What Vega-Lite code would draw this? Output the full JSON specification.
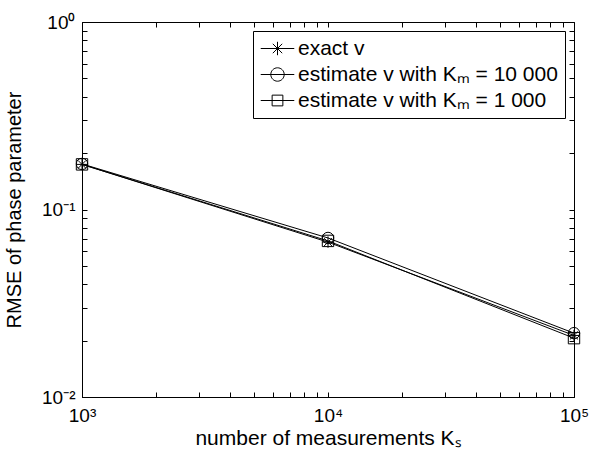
{
  "$schema": "https://vega.github.io/schema/vega-lite/v6.json",
  "width": 492,
  "height": 375,
  "autosize": {"type": "none"},
  "padding": {"left": 82, "top": 22, "right": 18, "bottom": 56},
  "background": "white",
  "data": {"values": [
    {"K": 1000, "rmse": 0.174, "series": "exact v"},
    {"K": 10000, "rmse": 0.067, "series": "exact v"},
    {"K": 100000, "rmse": 0.0213, "series": "exact v"},
    {"K": 1000, "rmse": 0.175, "series": "estimate v with Kₘ = 10 000"},
    {"K": 10000, "rmse": 0.0705, "series": "estimate v with Kₘ = 10 000"},
    {"K": 100000, "rmse": 0.0219, "series": "estimate v with Kₘ = 10 000"},
    {"K": 1000, "rmse": 0.174, "series": "estimate v with Kₘ = 1 000"},
    {"K": 10000, "rmse": 0.068, "series": "estimate v with Kₘ = 1 000"},
    {"K": 100000, "rmse": 0.0206, "series": "estimate v with Kₘ = 1 000"}
  ]},
  "config": {
    "view": {"stroke": "black", "strokeWidth": 1},
    "axis": {
      "domainColor": "black", "tickColor": "black", "labelColor": "black", "titleColor": "black",
      "labelFont": "Liberation Sans", "titleFont": "Liberation Sans",
      "labelFontSize": 19, "titleFontSize": 20, "titleFontWeight": "normal",
      "grid": false, "tickSize": -5, "labelOverlap": false, "labelBound": false, "labelFlush": false
    },
    "legend": {"labelFont": "Liberation Sans", "labelFontSize": 21, "labelColor": "black", "labelLimit": 0}
  },
  "resolve": {"axis": {"x": "independent", "y": "independent"}},
  "layer": [
    {
      "encoding": {
        "x": {"field": "K", "type": "quantitative",
          "scale": {"type": "log", "domain": [1000, 100000], "nice": false},
          "axis": {"title": "number of measurements Kₛ", "titleFontSize": 21,
            "values": [1000,2000,3000,4000,5000,6000,7000,8000,9000,10000,20000,30000,40000,50000,60000,70000,80000,90000,100000],
            "labelExpr": "datum.value == 1000 ? '10³' : datum.value == 10000 ? '10⁴' : datum.value == 100000 ? '10⁵' : ''",
            "labelPadding": 14, "titlePadding": 2}},
        "y": {"field": "rmse", "type": "quantitative",
          "scale": {"type": "log", "domain": [0.01, 1], "nice": false},
          "axis": {"title": "RMSE of phase parameter",
            "values": [0.01,0.02,0.03,0.04,0.05,0.06,0.07,0.08,0.09,0.1,0.2,0.3,0.4,0.5,0.6,0.7,0.8,0.9,1],
            "labelExpr": "datum.value == 0.01 ? '10⁻²' : datum.value == 0.1 ? '10⁻¹' : datum.value == 1 ? '10⁰' : ''",
            "labelPadding": 12, "titlePadding": 17}}
      },
      "resolve": {"scale": {"shape": "independent"}},
      "layer": [
        {"mark": {"type": "line", "color": "black", "strokeWidth": 1},
         "encoding": {"detail": {"field": "series"}}},
        {"mark": {"type": "point", "filled": false, "stroke": "black", "strokeWidth": 1, "size": 130, "opacity": 1},
         "encoding": {"shape": {"field": "series", "type": "nominal", "legend": null,
            "scale": {"domain": ["exact v", "estimate v with Kₘ = 10 000", "estimate v with Kₘ = 1 000"],
                      "range": ["M-1,0L1,0M0,-1L0,1M-0.7,-0.7L0.7,0.7M-0.7,0.7L0.7,-0.7", "circle", "square"]}}}},
        {"mark": {"type": "point", "filled": false, "stroke": "black", "strokeWidth": 1, "size": 130, "opacity": 0},
         "encoding": {"shape": {"field": "series", "type": "nominal",
            "scale": {"domain": ["exact v", "estimate v with Kₘ = 10 000", "estimate v with Kₘ = 1 000"],
                      "range": ["M-2.5,0L2.5,0M0,-1L0,1M-0.7,-0.7L0.7,0.7M-0.7,0.7L0.7,-0.7", "M-2.5,0L2.5,0M1,0A1,1,0,1,1,-1,0A1,1,0,1,1,1,0", "M-2.5,0L2.5,0M-0.8,-0.8L0.8,-0.8L0.8,0.8L-0.8,0.8Z"]},
            "legend": {"title": null, "orient": "top-right", "offset": 9,
              "fillColor": "white", "strokeColor": "black", "padding": 7,
              "symbolSize": 180, "symbolOpacity": 1, "symbolStrokeWidth": 1,
              "symbolStrokeColor": "black", "symbolFillColor": "transparent",
              "symbolOffset": 7, "labelOffset": 10, "rowPadding": 4}}}}
      ]
    },
    {"mark": {"type": "point", "opacity": 0},
     "encoding": {
       "x": {"field": "K", "type": "quantitative",
         "scale": {"type": "log", "domain": [1000, 100000], "nice": false},
         "axis": {"orient": "top", "title": null, "labels": false, "domain": false,
           "values": [1000,2000,3000,4000,5000,6000,7000,8000,9000,10000,20000,30000,40000,50000,60000,70000,80000,90000,100000]}},
       "y": {"field": "rmse", "type": "quantitative",
         "scale": {"type": "log", "domain": [0.01, 1], "nice": false},
         "axis": {"orient": "right", "title": null, "labels": false, "domain": false,
           "values": [0.01,0.02,0.03,0.04,0.05,0.06,0.07,0.08,0.09,0.1,0.2,0.3,0.4,0.5,0.6,0.7,0.8,0.9,1]}}}}
  ]
}
